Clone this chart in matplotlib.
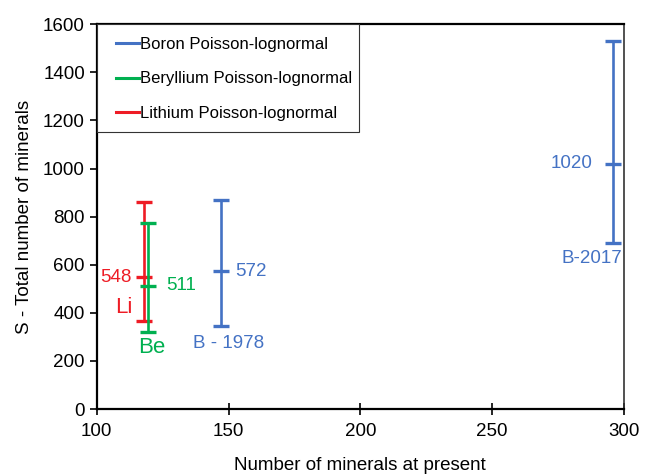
import matplotlib.pyplot as plt
from matplotlib.lines import Line2D
from matplotlib.patches import Rectangle

plt.rcParams['font.family'] = ['Liberation Sans', 'DejaVu Sans']

# estimates: present-day minerals vs predicted total S
series = ['Boron Poisson-lognormal', 'Beryllium Poisson-lognormal', 'Lithium Poisson-lognormal']
colors = ['#4472C4', '#00B050', '#EE1C25']

b_x = [147, 296]
b_mid = [572, 1020]
b_low = [344, 690]
b_high = [868, 1528]

be_x = [119.5]
be_mid = [511]
be_low = [320]
be_high = [774]

li_x = [118]
li_mid = [548]
li_low = [364]
li_high = [862]

fig = plt.figure(figsize=(6.54, 4.74), dpi=100)
ax = fig.add_axes([0.148, 0.137, 0.806, 0.812])


def draw(xs, mid, low, high, color):
    lower = [m - l for m, l in zip(mid, low)]
    upper = [h - m for m, h in zip(mid, high)]
    ax.errorbar(xs, mid, yerr=[lower, upper], fmt='none', ecolor=color,
                elinewidth=1.9, capsize=5.5, capthick=2.4, zorder=3)
    ax.plot(xs, mid, linestyle='none', marker='_', markersize=11,
            markeredgewidth=2.4, color=color, zorder=3)


draw(li_x, li_mid, li_low, li_high, colors[2])
draw(be_x, be_mid, be_low, be_high, colors[1])
draw(b_x, b_mid, b_low, b_high, colors[0])

# value labels
fs = 13.5
ax.text(113.3, li_mid[0], str(li_mid[0]), color=colors[2], fontsize=fs,
        ha='right', va='center')
ax.text(110.3, 422, 'Li', color=colors[2], fontsize=16, ha='center', va='center')
ax.text(126.3, 514, str(be_mid[0]), color=colors[1], fontsize=fs,
        ha='left', va='center')
ax.text(121, 255, 'Be', color=colors[1], fontsize=16, ha='center', va='center')
ax.text(152.5, b_mid[0], str(b_mid[0]), color=colors[0], fontsize=fs,
        ha='left', va='center')
ax.text(150, 271, 'B - 1978', color=colors[0], fontsize=fs, ha='center', va='center')
ax.text(288, b_mid[1], str(b_mid[1]), color=colors[0], fontsize=fs,
        ha='right', va='center')
ax.text(299.5, 626, 'B-2017', color=colors[0], fontsize=fs, ha='right', va='center')

ax.set_xlim(100, 300)
ax.set_ylim(0, 1600)
ax.set_xticks([100, 150, 200, 250, 300])
ax.set_yticks(range(0, 1601, 200))
ax.tick_params(axis='y', direction='out', length=5, width=1.2, labelsize=13.5)
ax.tick_params(axis='x', direction='inout', length=8, width=1.2, labelsize=13.5, pad=6)
for side in ['left', 'bottom', 'top']:
    ax.spines[side].set_linewidth(1.6)
ax.spines['right'].set_linewidth(1.2)
ax.spines['right'].set_color('#333333')

ax.set_xlabel('Number of minerals at present', fontsize=13.5, labelpad=12)
ax.set_ylabel('S - Total number of minerals', fontsize=13.5, labelpad=7)

# legend box: frame drawn separately so the padding can be uneven like the original
ax.add_patch(Rectangle((0, 0.721), 0.497, 0.279, transform=ax.transAxes,
                       facecolor='white', edgecolor='#333333', linewidth=0.8,
                       zorder=4))
handles = [Line2D([0], [0], color=c, linewidth=2.2) for c in colors]
leg = ax.legend(handles, series, loc='upper left', bbox_to_anchor=(0.036, 0.966),
                borderaxespad=0, borderpad=0, fontsize=12, handlelength=1.4,
                handletextpad=0.05, labelspacing=1.15, frameon=False)
leg.set_zorder(5)

fig.savefig('out.png', dpi=100)
